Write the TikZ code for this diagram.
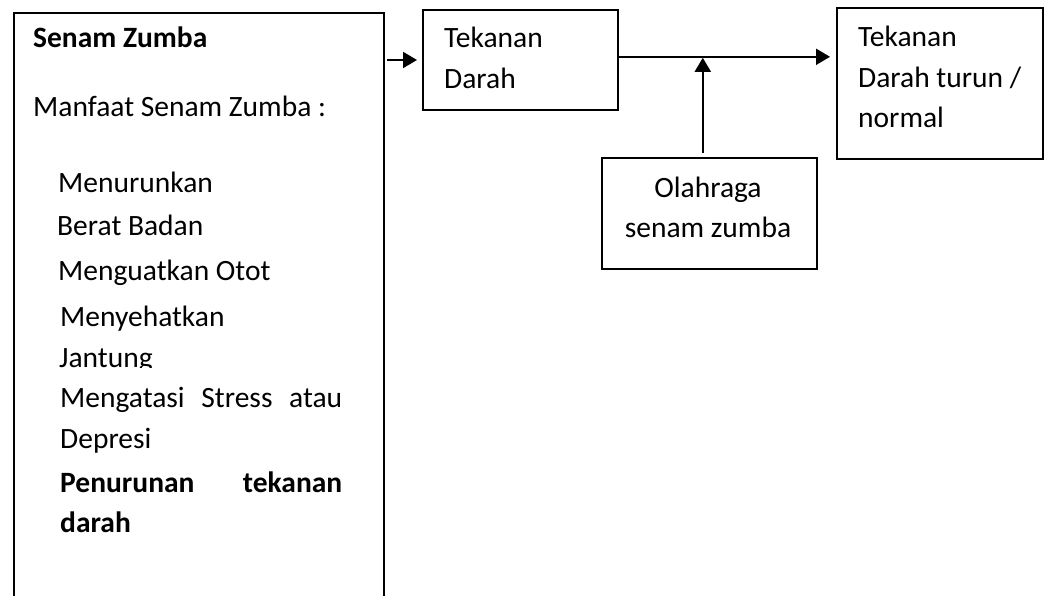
\documentclass[tikz,border=0pt]{standalone}
\usepackage{fontspec}
\setmainfont{Carlito}
\usetikzlibrary{arrows.meta}
\begin{document}
\begin{tikzpicture}[x=1pt,y=-1pt,
  box/.style={draw, line width=1.6pt, inner sep=0pt},
  txt/.style={anchor=base west, inner sep=0pt, font=\fontsize{29.5}{34}\selectfont},
  ctxt/.style={anchor=base, inner sep=0pt, font=\fontsize{29.5}{34}\selectfont},
  btxt/.style={txt, font=\fontsize{29.5}{34}\selectfont\bfseries},
  arr/.style={line width=2pt, -{Triangle[length=14pt,width=16pt]}}]
\useasboundingbox (0,0) rectangle (1049,596);
\clip (0,0) rectangle (1049,596);
% boxes
\node[box, anchor=north west, minimum width=370pt, minimum height=620pt] (left) at (13,12) {};
\node[box, anchor=north west, minimum width=195pt, minimum height=100pt] (td) at (422,9) {};
\node[box, anchor=north west, minimum width=206pt, minimum height=151pt] (tdn) at (836,7) {};
\node[box, anchor=north west, minimum width=215pt, minimum height=111pt] (ola) at (601,157) {};
% left box texts
\node[btxt] (t1) at (33,48) {Senam Zumba};
\node[txt] (t2) at (33,117) {Manfaat Senam Zumba :};
\node[txt] (t3) at (58,193) {Menurunkan};
\node[txt] (t4) at (57,235) {Berat Badan};
\node[txt] (t5) at (58,280) {Menguatkan Otot};
\node[txt] (t6) at (60,326) {Menyehatkan};
\begin{scope}
\clip (0,0) rectangle (1049,367);
\node[txt] (t7) at (59,367) {Jantung};
\end{scope}
\node[txt] (t8) at (60,407) {\makebox[282pt][s]{Mengatasi Stress atau}};
\node[txt] (t9) at (60,448) {Depresi};
\node[btxt] (t10) at (60,492) {\makebox[282pt][s]{Penurunan tekanan}};
\node[btxt] (t11) at (60,532) {darah};
% other texts
\node[txt] (a1) at (444,48) {Tekanan};
\node[txt] (a2) at (444,89) {Darah};
\node[txt] (b1) at (858,47) {Tekanan};
\node[txt] (b2) at (858,88) {Darah turun /};
\node[txt] (b3) at (858,128) {normal};
\node[ctxt] (c1) at (708,197) {Olahraga};
\node[ctxt] (c2) at (708,237) {senam zumba};
% connectors
\coordinate (s) at (387,60);
\draw[arr, shorten >=5pt] (s) -- (s -| td.west);
\coordinate (j) at ([yshift=3pt]td.east);
\draw[arr, shorten >=6pt] (j) -- (j -| tdn.west);
\coordinate (vb) at ([xshift=-6.5pt]ola.north);
\draw[arr, shorten <=4pt, shorten >=1pt] (vb) -- (vb |- j);
\end{tikzpicture}
\end{document}
